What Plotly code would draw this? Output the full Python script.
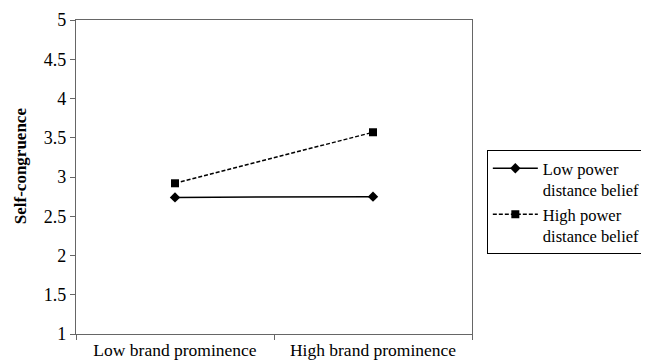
import plotly.graph_objects as go

categories = ["Low brand prominence", "High brand prominence"]
low_pdb = [2.74, 2.75]
high_pdb = [2.92, 3.57]
series_names = ["Low power<br>distance belief", "High power<br>distance belief"]
y_ticks = [1, 1.5, 2, 2.5, 3, 3.5, 4, 4.5, 5]
y_title = "<b>Self-congruence</b>"

fig = go.Figure()
fig.add_trace(go.Scatter(
    x=categories, y=low_pdb, name=series_names[0], mode="lines+markers",
    line=dict(color="black", width=1.5),
    marker=dict(symbol="diamond", size=8, color="black"),
))
fig.add_trace(go.Scatter(
    x=categories, y=high_pdb, name=series_names[1], mode="lines+markers",
    line=dict(color="black", width=1.5, dash="4px,2px"),
    marker=dict(symbol="square", size=8, color="black"),
))

font_family = "Liberation Serif"
# page body has an 8px margin; the figure is sized so it ends at the window edge
fig.update_layout(
    width=641, height=356,
    margin=dict(l=68, r=177, t=12, b=30, autoexpand=False),
    paper_bgcolor="white", plot_bgcolor="white",
    font=dict(family=font_family, size=16, color="black"),
    showlegend=True,
    legend=dict(
        xref="container", yref="container",
        x=0.747, y=0.601, xanchor="left", yanchor="top",
        bordercolor="black", borderwidth=1, valign="top",
        font=dict(family=font_family, size=16.5, color="black"),
        itemwidth=45, traceorder="grouped", tracegroupgap=6,
    ),
    xaxis=dict(
        type="category", range=[-0.5, 1.5], tickson="boundaries", ticks="outside", ticklen=5,
        tickcolor="#666", showline=True, linecolor="#666", linewidth=1.2,
        mirror=True, showgrid=False, tickfont=dict(family=font_family, size=17.5),
    ),
    yaxis=dict(
        range=[1, 5], tickvals=y_ticks, ticks="outside", ticklen=5,
        tickcolor="#666", showline=True, linecolor="#666", linewidth=1.2,
        mirror=True, showgrid=False, zeroline=False,
        tickfont=dict(family=font_family, size=18),
    ),
    annotations=[dict(
        text=y_title, textangle=-90, showarrow=False,
        xref="paper", yref="paper", x=-0.141, y=0.535,
        xanchor="center", yanchor="middle",
        font=dict(family=font_family, size=17, color="black"),
    )],
)

fig.write_html("out.html")
